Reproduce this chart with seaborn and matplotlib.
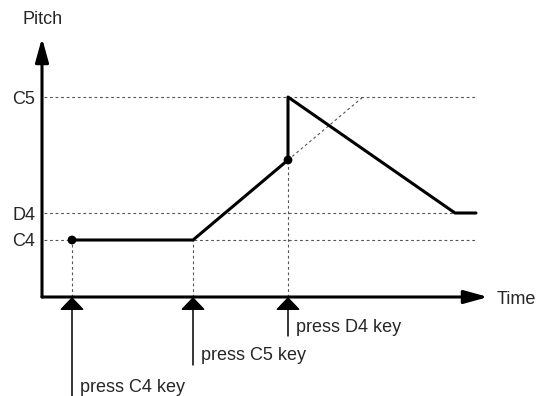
import matplotlib
matplotlib.use("Agg")
import matplotlib.pyplot as plt
import pandas as pd
import seaborn as sns

# pitch curve (time units, pitch units)
curve_time = [30, 151, 246, 246, 413, 434]
curve_pitch = [57, 57, 137, 200, 84, 84]

# reference pitch levels
level_names = ["C4", "D4", "C5"]
level_values = [57, 84, 200]

# key presses
press_time = [30, 151, 246]
press_pitch = [57, 57, 137]
press_labels = ["press C4 key", "press C5 key", "press D4 key"]
press_depth = [-99, -68, -39]

# dotted continuation of the glide
glide_time = [246, 321]
glide_pitch = [137, 200]

sns.set_style("white")
plt.rcParams["font.family"] = ["Liberation Sans", "DejaVu Sans"]

fig = plt.figure(figsize=(5.43, 3.96), dpi=100)
ax = fig.add_axes([42 / 543, 99 / 396, 446 / 543, 259 / 396])
ax.set_xlim(0, 446)
ax.set_ylim(0, 259)
for s in ax.spines.values():
    s.set_visible(False)
ax.set_xticks([])
ax.set_yticks(level_values, level_names)
ax.tick_params(axis="y", length=0, pad=5, labelsize=13)

dot = dict(color="#555555", lw=0.8, linestyle=(0, (2.5, 2.5)))
ax.hlines(level_values, 2, 434, **dot)
ax.vlines(press_time, 0, press_pitch, **dot)
ax.plot(glide_time, glide_pitch, **dot)

df = pd.DataFrame({"time": curve_time, "pitch": curve_pitch})
sns.lineplot(data=df, x="time", y="pitch", estimator=None, sort=False,
             color="black", lw=2.2, ax=ax)
dots = pd.DataFrame({"time": [press_time[0], press_time[2]],
                     "pitch": [press_pitch[0], press_pitch[2]]})
sns.scatterplot(data=dots, x="time", y="pitch", color="black", s=40,
                edgecolor="none", ax=ax, zorder=5)
ax.set_xlabel("")
ax.set_ylabel("")

# axes with arrow heads
axis_arrow = dict(arrowstyle="-|>,head_length=0.72,head_width=0.2",
                  lw=2.2, color="black", shrinkA=0, shrinkB=0, mutation_scale=20)
ax.annotate("", xy=(0, 259), xytext=(0, 0), arrowprops=axis_arrow, annotation_clip=False)
ax.annotate("", xy=(446, 0), xytext=(0, 0), arrowprops=axis_arrow, annotation_clip=False)
ax.text(1, 277, "Pitch", ha="center", va="center", fontsize=13)
ax.text(455, -2, "Time", ha="left", va="center", fontsize=13)

# key press arrows
key_arrow = dict(arrowstyle="-|>,head_length=0.4,head_width=0.38",
                 lw=1.1, color="black", shrinkA=0, shrinkB=0, mutation_scale=20)
for t, d, lab in zip(press_time, press_depth, press_labels):
    ax.annotate("", xy=(t, 0), xytext=(t, d), arrowprops=key_arrow, annotation_clip=False)
    ax.text(t + 8, d + 9, lab, ha="left", va="center", fontsize=13)

fig.savefig("out.png", dpi=100)
